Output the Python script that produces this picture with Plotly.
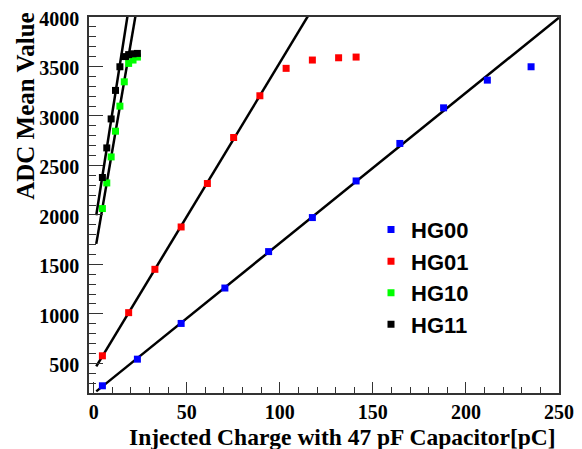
import numpy as np
import plotly.graph_objects as go

# ---- data ----
hg00_x = [4.7, 23.5, 47, 70.5, 94, 117.5, 141, 164.5, 188, 211.5, 235]
hg00_y = [273, 542, 903, 1261, 1629, 1973, 2343, 2722, 3082, 3362, 3497]

hg01_x = [4.7, 18.8, 32.9, 47, 61.1, 75.2, 89.3, 103.4, 117.5, 131.6, 141]
hg01_y = [576, 1012, 1450, 1878, 2317, 2782, 3204, 3481, 3565, 3588, 3595]

hg10_x = [4.7, 7.05, 9.4, 11.75, 14.1, 16.45, 18.8, 21.15, 23.5]
hg10_y = [2064, 2323, 2586, 2846, 3099, 3345, 3531, 3565, 3595]

hg11_x = [4.7, 7.05, 9.4, 11.75, 14.1, 16.45, 18.8, 21.15, 23.5]
hg11_y = [2378, 2677, 2970, 3258, 3497, 3600, 3620, 3628, 3632]

# number of points (from the start) used in each linear fit
fit_npts = {"HG00": 10, "HG01": 7, "HG10": 6, "HG11": 5}
fit_xrange = [1.4, 250]

series = [
    ("HG00", hg00_x, hg00_y, "#0000ff"),
    ("HG01", hg01_x, hg01_y, "#ff0000"),
    ("HG10", hg10_x, hg10_y, "#00ff00"),
    ("HG11", hg11_x, hg11_y, "#000000"),
]

fig = go.Figure()

# fit lines
for name, xs, ys, col in series:
    n = fit_npts[name]
    slope, icpt = np.polyfit(xs[:n], ys[:n], 1)
    lx = np.array(fit_xrange)
    fig.add_trace(go.Scatter(x=lx, y=icpt + slope * lx, mode="lines",
                             line=dict(color="black", width=2.5),
                             showlegend=False, hoverinfo="skip"))

# markers
for name, xs, ys, col in series:
    fig.add_trace(go.Scatter(x=xs, y=ys, mode="markers", name=name,
                             marker=dict(symbol="square", size=7, color=col,
                                         line=dict(width=0))))

serif = dict(family="Liberation Serif", size=20, color="black", weight="bold")

fig.update_layout(
    width=574, height=441,
    margin=dict(l=81, r=23, t=9, b=56),
    paper_bgcolor="white", plot_bgcolor="white",
    showlegend=True,
    legend=dict(x=0.6, y=0.49, xanchor="left", yanchor="top",
                bgcolor="rgba(0,0,0,0)", borderwidth=0,
                font=dict(family="Liberation Sans", size=22, color="black", weight="bold"),
                itemsizing="trace", tracegroupgap=0),
    xaxis=dict(range=[-2.5, 250], showgrid=False, zeroline=False, automargin=False,
               showline=True, linecolor="#333", linewidth=1.5, mirror=True,
               ticks="inside", ticklen=11, tickwidth=1.2, tickcolor="#333",
               tick0=0, dtick=50, tickfont=serif, ticklabeloverflow="allow",
               minor=dict(ticks="inside", ticklen=6, dtick=10, tickcolor="#333", tickwidth=1.2)),
    yaxis=dict(range=[200, 4000], showgrid=False, zeroline=False, automargin=False,
               showline=True, linecolor="#333", linewidth=1.5, mirror=True,
               ticks="inside", ticklen=14, tickwidth=1.2, tickcolor="#333",
               tick0=0, dtick=500, tickfont=serif, ticklabelstandoff=4,
               ticklabelshift=2, ticklabeloverflow="allow",
               minor=dict(ticks="inside", ticklen=7, dtick=100, tickcolor="#333", tickwidth=1.2)),
    annotations=[
        dict(text="ADC Mean Value", textangle=-90, xref="paper", yref="paper",
             x=-0.135, y=0.7625, xanchor="center", yanchor="middle", showarrow=False,
             font=dict(family="Liberation Serif", size=25, color="black", weight="bold")),
        dict(text="Injected Charge with 47 pF Capacitor[pC]", xref="paper", yref="paper",
             x=0.997, y=-0.118, xanchor="right", yanchor="middle", showarrow=False,
             font=dict(family="Liberation Serif", size=23.5, color="black", weight="bold")),
    ],
)

fig.write_html("out.html")
